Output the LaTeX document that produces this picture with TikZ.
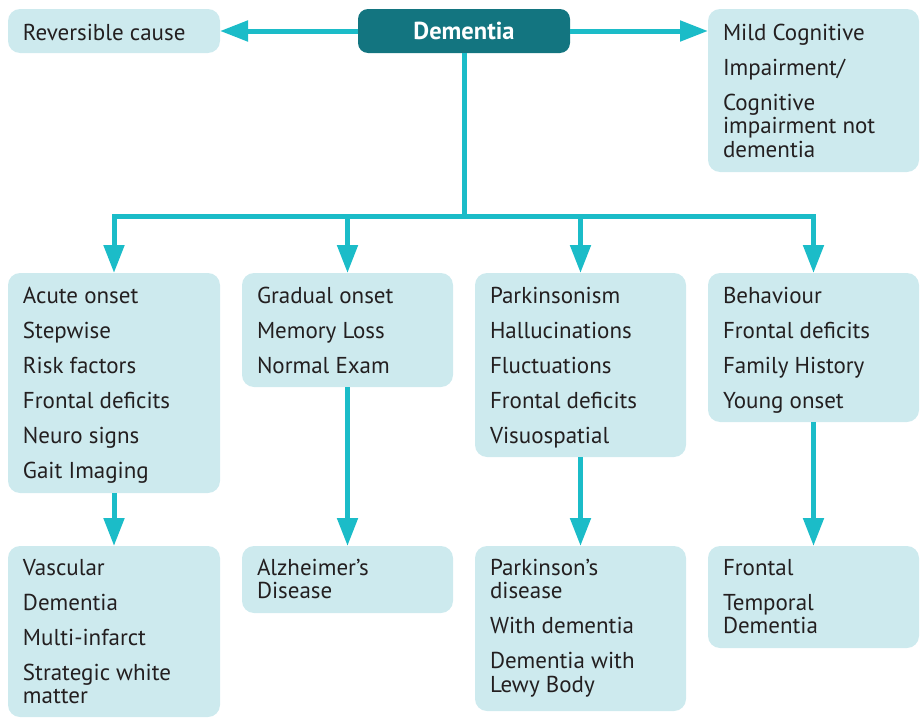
\documentclass[tikz,border=0pt]{standalone}
\usepackage{fontspec}
\setmainfont{PT Sans}
\usetikzlibrary{arrows.meta}
\definecolor{boxfill}{HTML}{CDEAEE}
\definecolor{arrowc}{HTML}{1BBCC8}
\definecolor{demfill}{HTML}{137580}
\definecolor{txt}{HTML}{231F20}
% #1 box height, #2 text width, #3 first baseline offset, #4 text
\newcommand\boxtxt[4]{\parbox[c][#1pt][t]{#2pt}{\raggedright\rule{0pt}{#3pt}#4}}
\tikzset{
 lbox/.style={draw=none, fill=boxfill, rounded corners=12pt, inner xsep=15pt, inner ysep=0pt, outer sep=0pt, text=txt, font=\fontsize{23}{23.5}\selectfont},
 conn/.style={draw=arrowc, line width=5pt},
 arr/.style={conn, -{Triangle[length=28pt,width=20pt]}},
}
\begin{document}
\begin{tikzpicture}[x=1pt,y=-1pt]
\useasboundingbox (0,0) rectangle (922,720);
\node[fill=demfill, rounded corners=10pt, minimum width=212pt, minimum height=44pt, inner sep=0pt, outer sep=0pt, text=white, font=\fontsize{24.5}{24.5}\selectfont\bfseries] (dem) at (464,31) {Dementia};
\node[lbox] (rev) at (114,31) {\boxtxt{44}{182}{31}{Reversible cause}};
\node[lbox] (mci) at (813.5,90.5) {\boxtxt{163}{181}{31}{Mild Cognitive\\[11.5pt]Impairment/\\[11.5pt]Cognitive\\impairment not\\dementia}};
\node[lbox] (A) at (114,383) {\boxtxt{220}{182}{30}{Acute onset\\[11.5pt]Stepwise\\[11.5pt]Risk factors\\[11.5pt]Frontal deficits\\[11.5pt]Neuro signs\\[11.5pt]Gait Imaging}};
\node[lbox] (B) at (347.5,330) {\boxtxt{114}{181}{30}{Gradual onset\\[11.5pt]Memory Loss\\[11.5pt]Normal Exam}};
\node[lbox] (C) at (580.5,365) {\boxtxt{184}{181}{30}{Parkinsonism\\[11.5pt]Hallucinations\\[11.5pt]Fluctuations\\[11.5pt]Frontal deficits\\[11.5pt]Visuospatial}};
\node[lbox] (D) at (813.5,347.5) {\boxtxt{149}{181}{30}{Behaviour\\[11.5pt]Frontal deficits\\[11.5pt]Family History\\[11.5pt]Young onset}};
\node[lbox] (E) at (114,631.5) {\boxtxt{171}{182}{29}{Vascular\\[11.5pt]Dementia\\[11.5pt]Multi-infarct\\[11.5pt]Strategic white\\matter}};
\node[lbox] (F) at (347.5,579.5) {\boxtxt{67}{181}{29}{Alzheimer’s\\Disease}};
\node[lbox] (G) at (580.5,628.5) {\boxtxt{165}{181}{29}{Parkinson’s\\disease\\[11.5pt]With dementia\\[11.5pt]Dementia with\\Lewy Body}};
\node[lbox] (H) at (813.5,597) {\boxtxt{102}{181}{29}{Frontal\\[11.5pt]Temporal\\Dementia}};
\coordinate (j) at (464,216);
\draw[arr] (dem.west) -- (rev.east);
\draw[arr] (dem.east) -- (dem.east -| mci.west);
\draw[conn] (dem.south) -- (j);
\draw[arr] (j) -| (A.north);
\draw[arr] (j) -| (B.north);
\draw[arr] (j) -| (C.north);
\draw[arr] (j) -| (D.north);
\draw[arr] (A.south) -- (E.north);
\draw[arr] (B.south) -- (F.north);
\draw[arr] (C.south) -- (G.north);
\draw[arr] (D.south) -- (H.north);
\end{tikzpicture}
\end{document}
